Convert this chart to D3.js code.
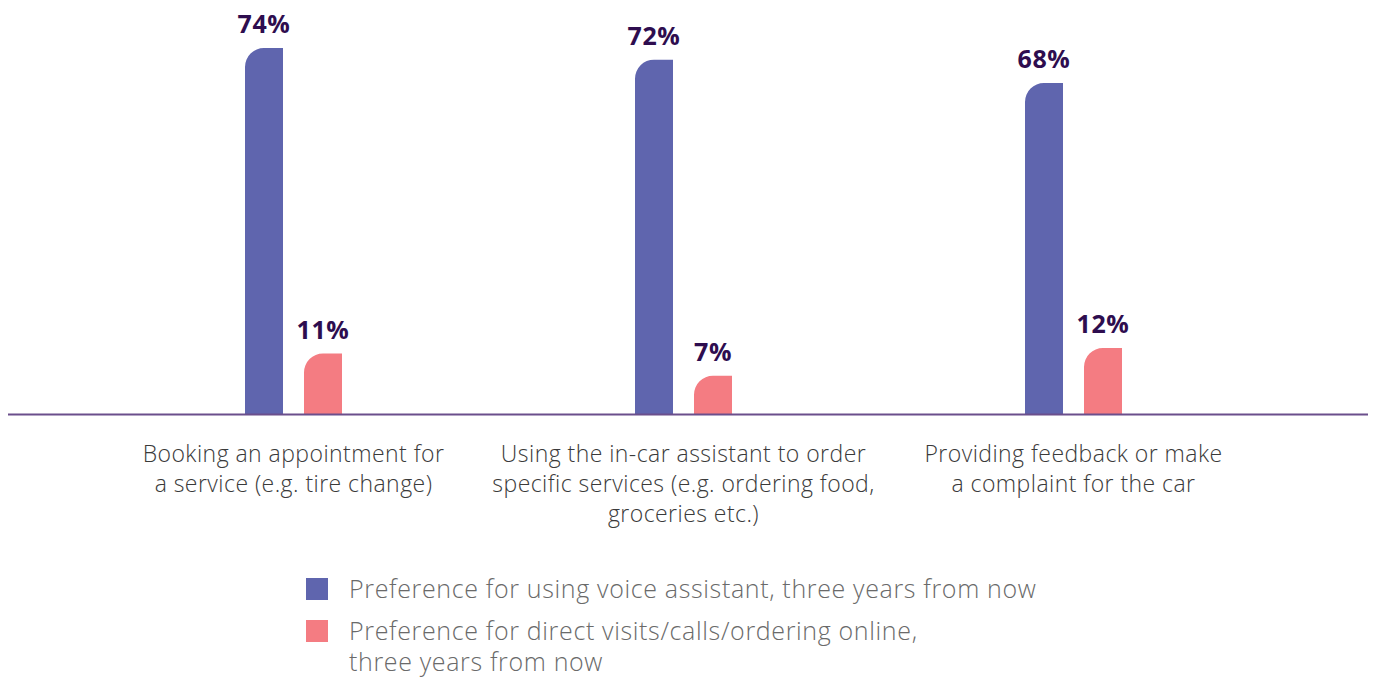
<!DOCTYPE html>
<html>
<head>
<meta charset="utf-8">
<script src="https://cdn.jsdelivr.net/npm/d3@7"></script>
<style>
  body { margin: 0; background: #fff; }
  svg { display: block; }
  .valueLabel { font-family: "Open Sans", sans-serif; font-weight: 700; font-size: 25px; letter-spacing: 0.6px; fill: #2e0d4f; }
  .catLabel { font-family: "Open Sans", sans-serif; font-weight: 300; font-size: 23px; letter-spacing: 0.45px; fill: #3a3a3a; }
  .legendLabel { font-family: "Open Sans", sans-serif; font-weight: 300; font-size: 25px; letter-spacing: 0.65px; fill: #6a6a6a; }
</style>
</head>
<body>
<div id="chart"></div>
<script>
// data
var categories = [
	["Booking an appointment for", "a service (e.g. tire change)"],
	["Using the in-car assistant to order", "specific services (e.g. ordering food,", "groceries etc.)"],
	["Providing feedback or make", "a complaint for the car"]
];
var voiceValues = [74, 72, 68];
var directValues = [11, 7, 12];
var seriesNames = [
	["Preference for using voice assistant, three years from now"],
	["Preference for direct visits/calls/ordering online,", "three years from now"]
];
var seriesColors = ['#5f65ae', '#f47c82'];

var width = 1375, height = 679;
var baseY = 414.5;
var barW = 38, corner = 19;

var svg = d3.select('#chart').append('svg')
	.attr('width', width)
	.attr('height', height);

var catIdx = d3.range(categories.length);
var x0 = d3.scaleBand()
	.domain(catIdx)
	.range([98.5, 1268.5]);
var x1 = d3.scaleBand()
	.domain([0, 1])
	.range([-48.5, 48.5])
	.paddingInner(21 / 59);

// the original artwork is not strictly linear, so a piecewise scale is used
var y = d3.scaleLinear()
	.domain([0, 12, 68, 74])
	.range([baseY, 348, 83, 48]);

var rows = catIdx.map(function(i) {
	return [voiceValues[i], directValues[i]];
});

// bar with only the top-left corner rounded
function barPath(x, top, w, bottom, r) {
	r = Math.min(r, bottom - top);
	return 'M' + x + ',' + bottom +
		'V' + (top + r) +
		'A' + r + ',' + r + ' 0 0 1 ' + (x + r) + ',' + top +
		'H' + (x + w) +
		'V' + bottom + 'Z';
}

var groups = svg.selectAll('g.group')
	.data(rows)
	.enter().append('g')
	.attr('class', 'group')
	.attr('transform', function(d, i) {
		return 'translate(' + (x0(i) + x0.bandwidth() / 2) + ',0)';
	});

groups.selectAll('path')
	.data(function(d) { return d; })
	.enter().append('path')
	.attr('fill', function(d, j) { return seriesColors[j]; })
	.attr('d', function(d, j) {
		var bx = x1(j) + (x1.bandwidth() - barW) / 2;
		return barPath(bx, y(d), barW, baseY, corner);
	});

groups.selectAll('text')
	.data(function(d) { return d; })
	.enter().append('text')
	.attr('class', 'valueLabel')
	.attr('text-anchor', 'middle')
	.attr('x', function(d, j) { return x1(j) + x1.bandwidth() / 2; })
	.attr('y', function(d) { return y(d) - 15; })
	.text(function(d) { return d + '%'; });

svg.append('line')
	.attr('x1', 8).attr('x2', 1368)
	.attr('y1', baseY).attr('y2', baseY)
	.attr('stroke', '#6b4f8c')
	.attr('stroke-width', 2);

// category labels
var cl = svg.selectAll('text.catLabel')
	.data(categories)
	.enter().append('text')
	.attr('class', 'catLabel')
	.attr('text-anchor', 'middle');
cl.selectAll('tspan')
	.data(function(d, i) { return d.map(function(s) { return {s: s, i: i}; }); })
	.enter().append('tspan')
	.attr('x', function(d) { return x0(d.i) + x0.bandwidth() / 2; })
	.attr('y', function(d, k) { return 462 + k * 30; })
	.text(function(d) { return d.s; });

// legend
var lg = svg.append('g').attr('class', 'legend');
var legendTop = [578, 620];
seriesNames.forEach(function(lines, j) {
	lg.append('rect')
		.attr('x', 306).attr('y', legendTop[j])
		.attr('width', 22).attr('height', 22)
		.attr('fill', seriesColors[j]);
	var t = lg.append('text').attr('class', 'legendLabel');
	lines.forEach(function(s, k) {
		t.append('tspan')
			.attr('x', 349)
			.attr('y', legendTop[j] + 20 + k * 31)
			.text(s);
	});
});
</script>
</body>
</html>
